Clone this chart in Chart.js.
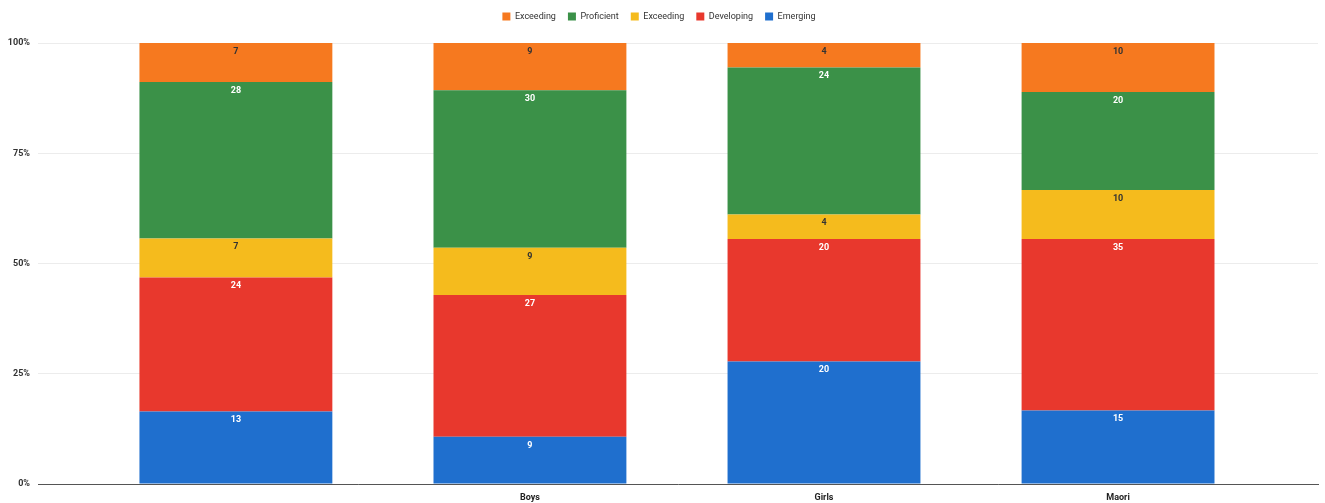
<!DOCTYPE html>
<html>
<head>
<meta charset="utf-8">
<script src="https://cdn.jsdelivr.net/npm/chart.js@4/dist/chart.umd.min.js"></script>
<style>
  html, body { margin: 0; padding: 0; background: #fff; }
  #wrap { width: 1325px; height: 503px; }
</style>
</head>
<body>
<div id="wrap"><canvas id="levels"></canvas></div>
<script>
// groups along the bottom (first group is unlabelled)
const groups = ["", "Boys", "Girls", "Maori"];

// counts per level, bottom of the stack first
const emerging = [13, 9, 20, 15];
const developing = [24, 27, 20, 35];
const exceedingLow = [7, 9, 4, 10];
const proficient = [28, 30, 24, 20];
const exceedingTop = [7, 9, 4, 10];

const yTicks = [0, 25, 50, 75, 100];

const series = [
  { label: "Emerging", data: emerging, color: "#1f6fce", text: "#fff" },
  { label: "Developing", data: developing, color: "#e8382d", text: "#fff" },
  { label: "Exceeding", data: exceedingLow, color: "#f5bb1d", text: "#333" },
  { label: "Proficient", data: proficient, color: "#3b9148", text: "#fff" },
  { label: "Exceeding", data: exceedingTop, color: "#f6791f", text: "#333" },
];

const totals = groups.map((g, i) => series.reduce((s, d) => s + d.data[i], 0));

// print the count near the top of each segment
const segmentLabels = {
  id: "segmentLabels",
  afterDatasetsDraw(chart) {
    const ctx = chart.ctx;
    ctx.save();
    ctx.font = "bold 9px Roboto, Arial, sans-serif";
    ctx.textAlign = "center";
    ctx.textBaseline = "top";
    chart.data.datasets.forEach((ds, di) => {
      const meta = chart.getDatasetMeta(di);
      ctx.fillStyle = series[di].text;
      meta.data.forEach((bar, i) => {
        ctx.fillText(String(ds.counts[i]), bar.x, bar.y + 4);
      });
    });
    ctx.restore();
  },
};

// fixed legend band height so the plot starts at the right place
const legendBand = {
  id: "legendBand",
  beforeInit(chart) {
    const fit = chart.legend.fit;
    chart.legend.fit = function () {
      fit.call(this);
      this.height = 43;
    };
  },
};

new Chart(document.getElementById("levels"), {
  type: "bar",
  data: {
    datasets: series.map((s) => ({
      label: s.label,
      counts: s.data,
      data: s.data.map((v, i) => ({ x: i, y: (v / totals[i]) * 100 })),
      backgroundColor: s.color,
      borderWidth: 0,
      barPercentage: 1,
      categoryPercentage: 0.656,
    })),
  },
  options: {
    responsive: true,
    maintainAspectRatio: false,
    animation: false,
    layout: { padding: { left: 0, right: 7, top: 0, bottom: 0 } },
    plugins: {
      legend: {
        reverse: true,
        labels: {
          boxWidth: 8,
          boxHeight: 8,
          padding: 12,
          color: "#333",
          font: { size: 9, family: "Roboto, Arial, sans-serif" },
        },
      },
      tooltip: { enabled: false },
    },
    scales: {
      x: {
        type: "linear",
        stacked: true,
        offset: false,
        min: -0.673,
        max: 3.68,
        afterBuildTicks: (axis) => {
          axis.ticks = groups.map((g, i) => ({ value: i }));
        },
        afterFit: (axis) => {
          axis.height = 19;
        },
        ticks: {
          callback: (v) => groups[v] ?? "",
          color: "#222",
          padding: 0,
          maxRotation: 0,
          font: { size: 9, weight: "bold", family: "Roboto, Arial, sans-serif" },
        },
        grid: { display: false, offset: false },
        border: { display: true, color: "#555", width: 1 },
      },
      y: {
        stacked: true,
        min: 0,
        max: 100,
        afterBuildTicks: (axis) => {
          axis.ticks = yTicks.map((v) => ({ value: v }));
        },
        afterFit: (axis) => {
          axis.width = 38;
        },
        ticks: {
          callback: (v) => v + "%",
          color: "#333",
          padding: 8,
          font: { size: 9, weight: "bold", family: "Roboto, Arial, sans-serif" },
        },
        grid: { color: "#ececec", drawTicks: false },
        border: { display: false },
      },
    },
  },
  plugins: [segmentLabels, legendBand],
});
</script>
</body>
</html>
